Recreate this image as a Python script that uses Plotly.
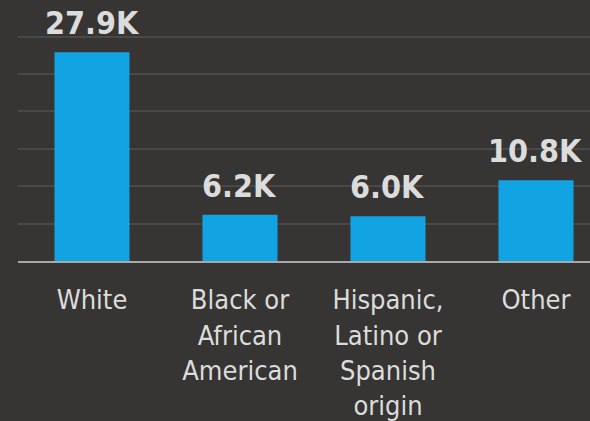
import plotly.graph_objects as go

categories = ["White", "Black or<br>African<br>American", "Hispanic,<br>Latino or<br>Spanish<br>origin", "Other"]
values = [27900, 6200, 6000, 10800]
value_labels = ["27.9K", "6.2K", "6.0K", "10.8K"]

BG = "#363533"
FONT = "DejaVu Sans Condensed, DejaVu Sans, sans-serif"

fig = go.Figure()
fig.add_trace(go.Bar(
    x=list(range(len(categories))),
    y=values,
    marker=dict(color="#12A3E3", line=dict(width=0)),
    width=0.507,
    hoverinfo="skip",
))

for i, (v, lab) in enumerate(zip(values, value_labels)):
    fig.add_annotation(
        x=i, y=v, text="<b>%s</b>" % lab, showarrow=False,
        yanchor="bottom", yshift=8,
        font=dict(family=FONT, size=32, color="#DCDCDC"),
    )

fig.update_layout(
    width=590, height=421,
    margin=dict(l=18, r=0, t=0, b=156),
    paper_bgcolor=BG, plot_bgcolor=BG,
    showlegend=False,
    font=dict(family=FONT, color="#DCDCDC"),
    xaxis=dict(
        tickmode="array",
        tickvals=list(range(len(categories))),
        ticktext=categories,
        range=[-0.5, 3.365],
        showline=True, linecolor="#A8A8A8", linewidth=2,
        ticks="outside", ticklen=14, tickcolor="rgba(0,0,0,0)",
        tickfont=dict(family=FONT, size=27, color="#DCDCDC"),
        showgrid=False, zeroline=False,
        tickangle=0,
    ),
    yaxis=dict(
        range=[0, 34900],
        dtick=5000,
        showticklabels=False,
        showgrid=True, gridcolor="#4A4947", gridwidth=2,
        zeroline=False, showline=False,
    ),
)

fig.write_html(
    "out.html",
    config={"displayModeBar": False},
    post_script="document.body.style.margin='0';document.body.style.overflow='hidden';",
)
